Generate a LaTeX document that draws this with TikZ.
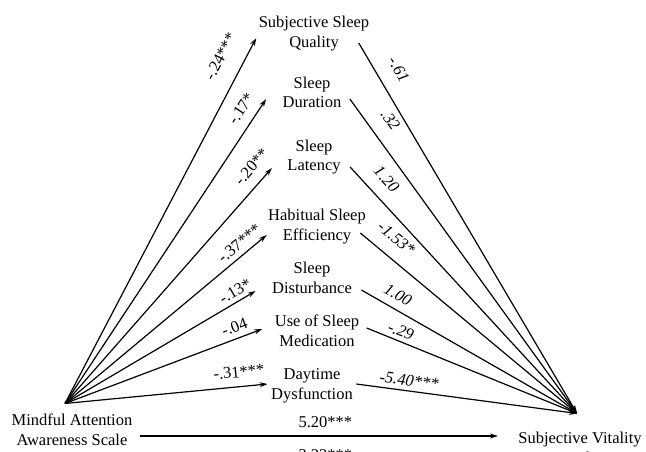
\documentclass[tikz,border=0pt]{standalone}
\usepackage{fontspec}
\setmainfont{Liberation Serif}
\usetikzlibrary{arrows.meta,positioning}

\begin{document}
\begin{tikzpicture}[
  x=1pt,y=-1pt,
  var/.style={align=center,font=\fontsize{16.5}{20}\selectfont},
  coef/.style={font=\fontsize{16.5}{20}\selectfont,sloped,inner sep=2pt},
  coefit/.style={coef,font=\fontsize{16.5}{20}\selectfont\itshape},
  link/.style={line width=1.2pt,-{Stealth[length=8pt,width=5pt]}},
]
\useasboundingbox (0,0) rectangle (646,452);

\node[var] (maas) at (72,431) {\strut Mindful Attention\\\strut Awareness Scale};
\node[var] (svs) at (580,449) {\strut Subjective Vitality\\\strut Scale};
\coordinate (maas-hub) at ([shift={(-7,-4)}]maas.north);
\coordinate (svs-hub) at ([shift={(-3,-12)}]svs.north);

\node[var] (sq) at (314,34) {\strut Subjective Sleep\\\strut Quality};
\node[var] (dur) at (312,94) {\strut Sleep\\\strut Duration};
\node[var] (lat) at (314,157) {\strut Sleep\\\strut Latency};
\node[var] (eff) at (317,226) {\strut Habitual Sleep\\\strut Efficiency};
\node[var] (dist) at (312,279) {\strut Sleep\\\strut Disturbance};
\node[var] (med) at (317,332) {\strut Use of Sleep\\\strut Medication};
\node[var] (day) at (312,385) {\strut Daytime\\\strut Dysfunction};

\draw[link] (maas-hub) -- ([shift={(1,4)}]sq.west) node[coef,pos=0.92,above=15pt] {-.24***};
\draw[link] (maas-hub) -- ([shift={(-13,5)}]dur.west) node[coef,pos=0.94,above=7.5pt] {-.17*};
\draw[link] (maas-hub) -- ([shift={(-12,11)}]lat.west) node[coef,pos=0.96,above=8pt] {-.20**};
\draw[link] (maas-hub) -- ([shift={(2,9)}]eff.west) node[coef,pos=0.9,above=3pt] {-.37***};
\draw[link] (maas-hub) -- ([shift={(-13,12)}]dist.west) node[coef,pos=0.92,above=2pt] {-.13*};
\draw[link] (maas-hub) -- ([shift={(-9,-3)}]med.west) node[coef,pos=0.88,above=3.5pt] {-.04};
\draw[link] (maas-hub) -- ([yshift=1pt]day.west) node[coef,pos=0.865,above=6.5pt] {-.31***};

\draw[link] ([shift={(-14,9)}]sq.east) -- (svs-hub) node[coefit,pos=0.1,above=13pt] {-.61};
\draw[link] ([shift={(5,5)}]dur.east) -- (svs-hub) node[coefit,pos=0.105,above=12.5pt] {.32};
\draw[link] ([shift={(6,10)}]lat.east) -- (svs-hub) node[coefit,pos=0.1,above=10.5pt] {1.20};
\draw[link] ([shift={(-9,7)}]eff.east) -- (svs-hub) node[coefit,pos=0.11,above=11pt] {-1.53*};
\draw[link] ([shift={(6,11)}]dist.east) -- (svs-hub) node[coefit,pos=0.137,above=6pt] {1.00};
\draw[link] ([shift={(4,-4)}]med.east) -- (svs-hub) node[coefit,pos=0.145,above=2pt] {-.29};
\draw[link] ([yshift=1pt]day.east) -- (svs-hub) node[coefit,pos=0.233,above=2pt] {-5.40***};

\draw[link,shorten <=4pt,shorten >=17pt] ([yshift=-5pt]maas.east) -- ([yshift=-5pt]maas.east -| svs.west)
  node[var,midway,above=4.7pt] {5.20***}
  node[var,midway,below=9.7pt] {3.22***};
\end{tikzpicture}
\end{document}
